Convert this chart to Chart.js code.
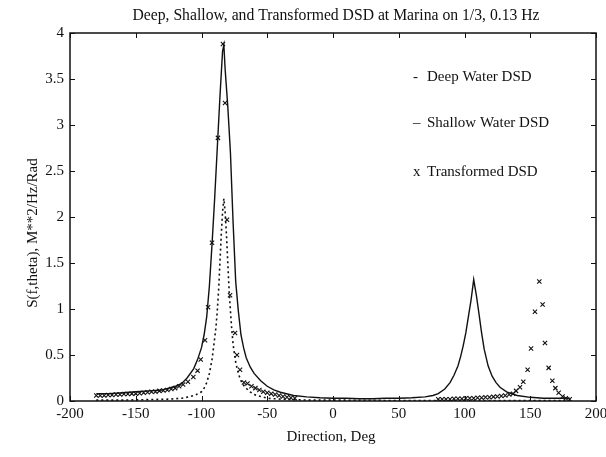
<!DOCTYPE html>
<html>
<head>
<meta charset="utf-8">
<script src="https://cdn.jsdelivr.net/npm/chart.js@4.4.1/dist/chart.umd.min.js"></script>
<style>
  html, body { margin: 0; padding: 0; background: #fff; }
  #wrap { width: 606px; height: 457px; }
</style>
</head>
<body>
<div id="wrap"><canvas id="c" width="606" height="457"></canvas></div>
<script>
// shallow water DSD (solid line)
const shallowAngle = [-180, -170, -160, -150, -140, -130, -125, -120, -115, -111, -106, -103, -100, -98, -96, -94, -92, -90, -88, -86, -84, -83,
  -82, -80, -78, -76, -74, -72, -70, -68, -66, -63, -60, -55, -50, -45, -40, -30, -20, -10, 0, 10, 20, 30, 40, 50, 60, 70, 76, 80, 85, 89,
  92, 95, 97, 99, 101, 103, 105, 107, 109, 111, 113, 115, 118, 121, 124, 127, 132, 140, 150, 160, 170, 180];
const shallowVals = [0.08, 0.08, 0.09, 0.10, 0.11, 0.12, 0.14, 0.16, 0.19, 0.25, 0.35, 0.45, 0.58, 0.72, 0.92, 1.25, 1.7, 2.2, 2.75, 3.3, 3.8, 3.87,
  3.6, 3.2, 2.7, 1.95, 1.3, 0.98, 0.72, 0.58, 0.47, 0.37, 0.30, 0.22, 0.16, 0.12, 0.095, 0.06, 0.045, 0.035, 0.03, 0.03, 0.025, 0.025, 0.03, 0.03, 0.035, 0.045, 0.06, 0.08, 0.13, 0.20,
  0.28, 0.38, 0.48, 0.60, 0.74, 0.92, 1.10, 1.32, 1.15, 0.95, 0.74, 0.56, 0.38, 0.27, 0.20, 0.15, 0.10, 0.06, 0.04, 0.03, 0.03, 0.03];

// deep water DSD (dotted line)
const deepAngle = [-180, -160, -140, -125, -115, -108, -104, -100, -98, -96, -94, -92, -90, -89, -88, -87, -86, -85, -84, -83,
  -82, -81, -80, -79, -78, -77, -76, -74, -72, -70, -67, -63, -60, -55, -50, -40, -20, 0, 50, 100, 180];
const deepVals = [0.01, 0.01, 0.015, 0.02, 0.03, 0.05, 0.07, 0.10, 0.14, 0.2, 0.3, 0.45, 0.68, 0.8, 0.98, 1.2, 1.5, 1.8, 2.05, 2.2,
  2.05, 1.8, 1.5, 1.2, 0.98, 0.78, 0.62, 0.42, 0.3, 0.22, 0.15, 0.10, 0.07, 0.05, 0.03, 0.02, 0.01, 0.01, 0.005, 0.005, 0.005];

// transformed DSD (x markers)
const transAngle = [-180, -177, -174, -171, -168, -165, -162, -159, -156, -153, -150, -147, -144, -141, -138, -135, -132, -129, -126, -123,
  -120, -117, -114, -110.3, -106.2, -103, -100.6, -97.3, -95, -92, -87.5, -83.7, -82.1, -80.6, -78.3, -74.5, -73, -70.7, -67.7,
  -65, -62, -59, -56, -53, -50, -47, -44, -41, -38, -35, -32, -29,
  80, 83, 86, 89, 92, 95, 98, 101, 104, 107, 110, 113, 116, 119, 122, 125, 128, 131, 134,
  136.9, 139.2, 142.2, 144.7, 148, 150.6, 153.6, 156.9, 159.4, 161.2, 164, 166.8, 169.1, 171.6, 174.6, 177, 180];
const transVals = [0.06, 0.06, 0.06, 0.065, 0.065, 0.07, 0.07, 0.075, 0.075, 0.08, 0.08, 0.085, 0.09, 0.095, 0.10, 0.10, 0.11, 0.115, 0.12, 0.13,
  0.14, 0.16, 0.18, 0.21, 0.26, 0.33, 0.45, 0.66, 1.02, 1.72, 2.86, 3.88, 3.24, 1.97, 1.15, 0.74, 0.50, 0.34, 0.2,
  0.19, 0.16, 0.14, 0.12, 0.10, 0.09, 0.08, 0.07, 0.06, 0.05, 0.04, 0.035, 0.03,
  0.02, 0.02, 0.02, 0.02, 0.025, 0.025, 0.025, 0.03, 0.03, 0.03, 0.035, 0.035, 0.04, 0.04, 0.045, 0.05, 0.055, 0.06, 0.07,
  0.08, 0.11, 0.15, 0.21, 0.34, 0.57, 0.97, 1.30, 1.05, 0.63, 0.36, 0.22, 0.14, 0.09, 0.05, 0.03, 0.02];

const xTicks = [-200, -150, -100, -50, 0, 50, 100, 150, 200];
const yTicks = [0, 0.5, 1, 1.5, 2, 2.5, 3, 3.5, 4];

const titleText = "Deep, Shallow, and Transformed DSD at Marina on 1/3, 0.13 Hz";
const xTitle = "Direction, Deg";
const yTitle = "S(f,theta), M**2/Hz/Rad";
const legendItems = [["-", "Deep Water DSD"], ["\u2013", "Shallow Water DSD"], ["x", "Transformed DSD"]];

const serif = "'Liberation Serif', 'Times New Roman', serif";
const ink = "#111";

function pts(xs, ys) {
  return xs.map((x, i) => ({ x: x, y: ys[i] }));
}

// frame, inward ticks and all the loose text
const decor = {
  id: "decor",
  afterDraw(chart) {
    const ctx = chart.ctx;
    const a = chart.chartArea;
    const xs = chart.scales.x, ys = chart.scales.y;
    ctx.save();
    ctx.strokeStyle = ink;
    ctx.lineWidth = 1.5;
    ctx.strokeRect(a.left, a.top, a.right - a.left, a.bottom - a.top);
    ctx.lineWidth = 1;
    ctx.beginPath();
    xTicks.forEach(v => {
      const px = Math.round(xs.getPixelForValue(v)) + 0.5;
      ctx.moveTo(px, a.bottom); ctx.lineTo(px, a.bottom - 5);
      ctx.moveTo(px, a.top); ctx.lineTo(px, a.top + 5);
    });
    yTicks.forEach(v => {
      const py = Math.round(ys.getPixelForValue(v)) + 0.5;
      ctx.moveTo(a.left, py); ctx.lineTo(a.left + 5, py);
      ctx.moveTo(a.right, py); ctx.lineTo(a.right - 5, py);
    });
    ctx.stroke();

    ctx.fillStyle = ink;
    ctx.font = "15.7px " + serif;
    ctx.textAlign = "center";
    ctx.textBaseline = "middle";
    ctx.fillText(titleText, 336, 16);
    ctx.font = "15px " + serif;
    ctx.fillText(xTitle, 331, 437);

    ctx.save();
    ctx.translate(33, 233);
    ctx.rotate(-Math.PI / 2);
    ctx.fillText(yTitle, 0, 0);
    ctx.restore();

    ctx.textAlign = "left";
    const ly = [77, 123, 172];
    legendItems.forEach((it, i) => {
      ctx.fillText(it[0], 413, ly[i]);
      ctx.fillText(it[1], 427, ly[i]);
    });
    ctx.restore();
  }
};

new Chart(document.getElementById("c"), {
  type: "scatter",
  data: {
    datasets: [
      {
        label: "Deep Water DSD",
        data: pts(deepAngle, deepVals),
        showLine: true,
        borderColor: ink,
        borderWidth: 1.6,
        borderDash: [2, 3],
        pointRadius: 0,
        tension: 0
      },
      {
        label: "Shallow Water DSD",
        data: pts(shallowAngle, shallowVals),
        showLine: true,
        borderColor: ink,
        borderWidth: 1.4,
        pointRadius: 0,
        tension: 0
      },
      {
        label: "Transformed DSD",
        data: pts(transAngle, transVals),
        showLine: false,
        pointStyle: "crossRot",
        pointRadius: 3,
        borderColor: ink,
        borderWidth: 1.1,
        backgroundColor: ink
      }
    ]
  },
  options: {
    responsive: false,
    animation: false,
    layout: { padding: { top: 33, right: 10, left: 0, bottom: 0 } },
    plugins: {
      legend: { display: false },
      title: { display: false },
      tooltip: { enabled: false }
    },
    scales: {
      x: {
        type: "linear",
        min: -200,
        max: 200,
        afterFit(s) { s.height = 56; },
        afterBuildTicks(s) { s.ticks = xTicks.map(v => ({ value: v })); },
        grid: { display: false },
        border: { display: false },
        ticks: {
          color: ink,
          padding: -4,
          maxRotation: 0,
          font: { family: serif, size: 15 },
          callback: v => String(v)
        }
      },
      y: {
        min: 0,
        max: 4,
        afterFit(s) { s.width = 70; },
        afterBuildTicks(s) { s.ticks = yTicks.map(v => ({ value: v })); },
        grid: { display: false },
        border: { display: false },
        ticks: {
          color: ink,
          padding: -2,
          font: { family: serif, size: 15 },
          callback: v => String(v)
        }
      }
    }
  },
  plugins: [decor]
});
</script>
</body>
</html>
